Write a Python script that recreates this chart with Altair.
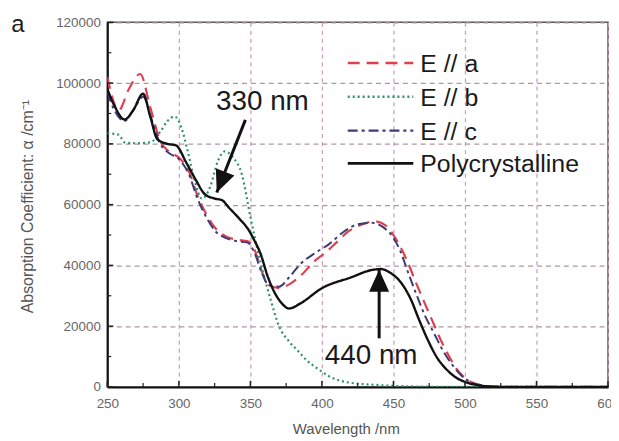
import altair as alt
import pandas as pd

# ---------------- data ----------------
series_names = ["E // a", "E // b", "E // c", "Polycrystalline"]

a_wl = [250, 258, 265, 273, 280, 287, 293, 300, 307, 313, 319, 326, 333, 340, 348, 353, 358, 363,
        370, 378, 386, 395, 402, 410, 418, 428, 437, 445, 450, 455, 460, 466, 471, 477, 483, 489,
        494, 501, 510, 520, 540, 600]
a_val = [102000, 91000, 98000, 103000, 92000, 81000, 77500, 75500, 71000, 63000, 57000, 52000,
         49500, 48500, 48000, 45000, 38000, 33500, 32500, 34000, 37000, 41500, 44000, 47500, 51000,
         53500, 54500, 53000, 50000, 46000, 41000, 34000, 28500, 22000, 15500, 10000, 6000, 2500,
         700, 100, 0, 0]

b_wl = [250, 258, 262, 270, 280, 287, 292, 297, 302, 306, 311, 316, 322, 327, 332, 338, 344, 350,
        357, 364, 370, 377, 383, 390, 397, 405, 418, 440, 470, 500, 600]
b_val = [83500, 83000, 80500, 80200, 80500, 84000, 87500, 89000, 85000, 78000, 68000, 62000, 66000,
         74000, 77500, 75500, 70000, 56000, 41000, 29000, 20000, 15000, 12000, 8500, 6000, 3500,
         1500, 600, 100, 0, 0]

c_wl = [250, 255, 262, 268, 275, 281, 287, 293, 300, 307, 313, 319, 326, 333, 340, 348, 353, 358,
        363, 370, 377, 385, 395, 405, 415, 425, 435, 443, 450, 455, 460, 466, 472, 478, 484, 490,
        496, 503, 512, 525, 600]
c_val = [97000, 91000, 87500, 91000, 95500, 88000, 80000, 77000, 75000, 70000, 62000, 56000, 51000,
         49000, 48000, 47500, 44000, 37500, 33500, 33000, 36000, 40500, 44000, 47000, 51000, 53500,
         54000, 52500, 49000, 44500, 38000, 30500, 23500, 18000, 12500, 8000, 4500, 1800, 500, 0, 0]

p_wl = [250, 255, 262, 268, 275, 280, 285, 292, 298, 305, 312, 318, 325, 330, 335, 342, 349, 353,
        357, 362, 367, 372, 377, 385, 400, 420, 435, 441, 448, 455, 462, 468, 474, 480, 487, 494,
        501, 510, 520, 530, 600]
p_val = [98000, 92500, 88000, 91000, 96500, 89000, 81500, 80000, 79500, 74000, 68000, 63500, 62000,
         61500, 59000, 55500, 51500, 48000, 44000, 36500, 31000, 27500, 25800, 27500, 32500, 36000,
         38500, 38800, 37500, 34500, 29000, 22000, 15500, 10000, 5800, 3000, 1500, 500, 100, 0, 0]

x_ticks_major = [250, 300, 350, 400, 450, 500, 550, 600]
x_ticks_minor = [275, 325, 375, 425, 475, 525, 575]
y_ticks_major = [0, 20000, 40000, 60000, 80000, 100000, 120000]
y_ticks_minor = [10000, 30000, 50000, 70000, 90000, 110000]

ann_labels = ["330 nm", "440 nm"]
ann_text_x = [326, 402]
ann_text_y = [93800, 10300]
ann_tail_x = [346.5, 440]
ann_tail_y = [87900, 16000]
ann_tip_x = [326.5, 440]
ann_tip_y = [64000, 38600]
ann_angle = [202, 0]

# ---------------- styles ----------------
colors = ["#e0404e", "#2f9368", "#3a3d78", "#111111"]
dashes = [[12, 7], [2, 3], [10, 4, 3, 4], [1, 0]]
widths = [2.2, 2.2, 2.0, 2.4]
FONT = "Liberation Sans"

W, H = 504, 367
xs = alt.Scale(domain=[250, 600], nice=False)
ys = alt.Scale(domain=[0, 120000], nice=False)

rows = []
for name, wl, val in zip(series_names, [a_wl, b_wl, c_wl, p_wl], [a_val, b_val, c_val, p_val]):
    for w, v in zip(wl, val):
        rows.append({"series": name, "wl": w, "val": v})
df = pd.DataFrame(rows)

x_axis = alt.Axis(values=x_ticks_major, grid=True, gridColor="#cf9fbf", gridDash=[4, 4],
                  gridWidth=1.3, ticks=False, domainColor="#111", domainWidth=2,
                  labelFont=FONT, labelFontSize=13.5, labelColor="#666", labelPadding=10,
                  title="Wavelength /nm", titleFont=FONT, titleFontSize=15,
                  titleFontWeight="normal", titleColor="#555", titleX=240, titleY=42,
                  titleAlign="center", titleBaseline="middle", labelFlush=False)
y_axis = alt.Axis(values=y_ticks_major, grid=True, gridColor="#ad98a4", gridDash=[5, 4],
                  gridWidth=1.3, ticks=False, domainColor="#111", domainWidth=2, format="d",
                  labelFont=FONT, labelFontSize=13.5, labelColor="#666", labelPadding=7,
                  title="Absorption Coefficient: α /cm⁻¹", titleFont=FONT, titleFontSize=16,
                  titleFontWeight="normal", titleColor="#555", titleX=-80, titleY=185,
                  titleAngle=270, titleAlign="center", titleBaseline="middle")

layers = []
base_axes = alt.Chart(df).mark_line(opacity=0).encode(
    x=alt.X("wl:Q", scale=xs, axis=x_axis),
    y=alt.Y("val:Q", scale=ys, axis=y_axis),
    detail="series:N",
)
layers.append(base_axes)

for i, name in enumerate(series_names):
    layers.append(
        alt.Chart(df[df.series == name]).mark_line(
            color=colors[i], strokeDash=dashes[i], strokeWidth=widths[i], clip=True,
            interpolate="monotone"
        ).encode(x=alt.X("wl:Q", scale=xs), y=alt.Y("val:Q", scale=ys))
    )

# inward tick marks
tx_maj = pd.DataFrame({"v": x_ticks_major})
tx_min = pd.DataFrame({"v": x_ticks_minor})
ty_maj = pd.DataFrame({"v": y_ticks_major})
ty_min = pd.DataFrame({"v": y_ticks_minor})
layers.append(alt.Chart(tx_maj).mark_rule(color="#222", strokeWidth=1.5).encode(
    x=alt.X("v:Q", scale=xs), y=alt.value(H), y2=alt.value(H - 6)))
layers.append(alt.Chart(tx_min).mark_rule(color="#222", strokeWidth=1.2).encode(
    x=alt.X("v:Q", scale=xs), y=alt.value(H), y2=alt.value(H - 4)))
layers.append(alt.Chart(ty_maj).mark_rule(color="#222", strokeWidth=1.5).encode(
    y=alt.Y("v:Q", scale=ys), x=alt.value(0), x2=alt.value(6)))
layers.append(alt.Chart(ty_min).mark_rule(color="#222", strokeWidth=1.2).encode(
    y=alt.Y("v:Q", scale=ys), x=alt.value(0), x2=alt.value(4)))

# legend (manual, inside plot)
leg_y = [41, 75, 109, 142]
for i, name in enumerate(series_names):
    ld = pd.DataFrame({"label": [name]})
    layers.append(alt.Chart(ld).mark_rule(
        color=colors[i], strokeDash=dashes[i], strokeWidth=widths[i] + 0.3).encode(
        x=alt.value(242), x2=alt.value(308), y=alt.value(leg_y[i])))
    layers.append(alt.Chart(ld).mark_text(
        font=FONT, fontSize=25, color="#1a1a1a", align="left", baseline="middle").encode(
        x=alt.value(315), y=alt.value(leg_y[i] + 1), text="label:N"))

# annotations
ann = pd.DataFrame({"label": ann_labels, "tx": ann_text_x, "ty": ann_text_y,
                    "x0": ann_tail_x, "y0": ann_tail_y, "x1": ann_tip_x, "y1": ann_tip_y,
                    "ang": ann_angle})
layers.append(alt.Chart(ann).mark_rule(color="#111", strokeWidth=3).encode(
    x=alt.X("x0:Q", scale=xs), y=alt.Y("y0:Q", scale=ys),
    x2="x1:Q", y2="y1:Q"))
layers.append(alt.Chart(ann).mark_point(
    shape="M0,0 L-0.45,1 L0.45,1 Z", filled=True, color="#111", opacity=1).encode(
    x=alt.X("x1:Q", scale=xs), y=alt.Y("y1:Q", scale=ys),
    angle=alt.Angle("ang:Q", scale=None), size=alt.value(2000)))
layers.append(alt.Chart(ann).mark_text(
    font=FONT, fontSize=28, color="#1a1a1a", align="left", baseline="middle").encode(
    x=alt.X("tx:Q", scale=xs), y=alt.Y("ty:Q", scale=ys), text="label:N"))

# panel letter
layers.append(alt.Chart(pd.DataFrame({"t": ["a"]})).mark_text(
    font=FONT, fontSize=24, color="#222", align="center", baseline="middle").encode(
    x=alt.value(-90), y=alt.value(3), text="t:N"))

chart = alt.layer(*layers).properties(
    width=W, height=H,
    autosize=alt.AutoSizeParams(type="none"),
    padding={"left": 100, "top": 13, "right": 3, "bottom": 52},
    background="white",
).configure_view(stroke="#555", strokeWidth=1.5)

chart.save("out.html", embed_options={"renderer": "svg", "actions": False})
